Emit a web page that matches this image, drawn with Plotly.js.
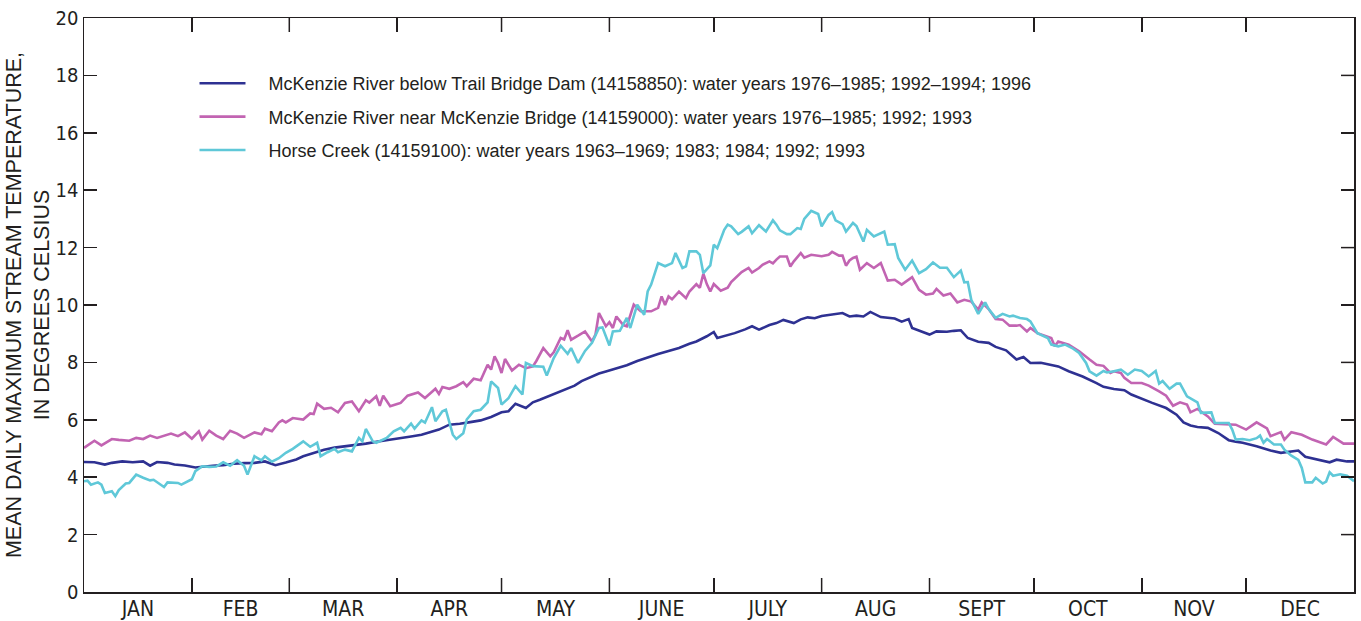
<!DOCTYPE html>
<html>
<head>
<meta charset="utf-8">
<script src="https://cdn.plot.ly/plotly-3.0.1.min.js"></script>
<style>
html,body{margin:0;padding:0;background:#fff;}
#chart{width:1361px;height:621px;}
</style>
</head>
<body>
<div id="chart"></div>
<script>
// Month boundaries (day of year) and labels
const monthStarts = [0,31,59,90,120,151,181,212,243,273,304,334,365];
const monthLabels = ["JAN","FEB","MAR","APR","MAY","JUNE","JULY","AUG","SEPT","OCT","NOV","DEC"];

// McKenzie River below Trail Bridge Dam (14158850)
const trailDays = [0,3,6,8,11,14,17,19,21,24,26,29,32,34,37,40,43,46,49,52,55,58,61,63,66,69,72,75,78,81,85,88,91,94,97,100,102,105,108,111,114,117,120,122,124,127,129,131,133,135,137,139,141,143,145,148,150,153,156,159,162,165,168,171,174,176,179,181,182,185,187,190,192,194,197,199,201,204,206,208,210,212,214,216,218,220,222,224,226,229,231,233,235,237,238,241,243,245,248,250,252,254,257,260,262,265,268,270,272,275,278,280,283,287,291,293,296,299,301,304,307,311,314,316,318,320,323,326,329,331,333,337,341,344,347,349,351,353,355,358,360,363,365];
const trailTemp = [4.53,4.52,4.44,4.5,4.55,4.52,4.55,4.4,4.53,4.5,4.44,4.41,4.34,4.37,4.4,4.42,4.47,4.49,4.5,4.55,4.42,4.51,4.62,4.73,4.85,4.96,5.03,5.07,5.12,5.17,5.25,5.3,5.37,5.42,5.48,5.6,5.66,5.83,5.86,5.92,5.98,6.1,6.26,6.3,6.56,6.41,6.61,6.7,6.8,6.9,6.99,7.1,7.19,7.35,7.46,7.61,7.68,7.78,7.9,8.05,8.18,8.29,8.4,8.5,8.65,8.73,8.91,9.06,8.85,8.95,9.02,9.15,9.26,9.14,9.3,9.37,9.48,9.37,9.5,9.57,9.54,9.62,9.66,9.68,9.72,9.6,9.63,9.6,9.76,9.58,9.55,9.53,9.42,9.51,9.2,9.05,8.97,9.08,9.07,9.1,9.12,8.85,8.72,8.68,8.54,8.42,8.1,8.19,7.98,7.99,7.9,7.86,7.69,7.51,7.28,7.15,7.07,7.03,6.88,6.73,6.59,6.41,6.18,5.91,5.8,5.75,5.72,5.54,5.29,5.24,5.2,5.08,4.93,4.85,4.9,4.93,4.71,4.66,4.61,4.52,4.61,4.55,4.55];

// McKenzie River near McKenzie Bridge (14159000)
const bridgeDays = [0,3,5,8,10,13,15,17,19,21,25,27,29,31,33,34,36,38,40,42,44,46,49,51,52,54,56,57,58,60,63,65,66,67,69,71,73,75,77,79,81,82,84,85,86,88,90,91,93,95,96,98,100,101,102,103,105,107,109,110,112,114,116,117,118,119,120,121,123,125,127,129,130,132,134,135,137,138,139,140,142,144,146,147,148,150,151,152,153,155,156,158,160,163,165,166,167,168,169,171,173,174,176,177,178,179,180,181,183,185,186,188,189,191,192,194,195,197,198,199,200,202,203,204,206,207,209,212,214,215,217,218,219,220,221,222,223,225,227,229,231,233,235,238,240,242,244,245,247,249,251,253,255,257,258,260,262,264,266,268,269,271,272,274,276,278,279,280,283,286,289,291,293,295,296,298,299,301,304,306,309,311,313,315,317,318,320,323,325,329,331,334,337,340,341,344,345,347,350,353,357,359,362,365];
const bridgeTemp = [5.02,5.27,5.11,5.33,5.3,5.27,5.37,5.33,5.45,5.37,5.52,5.43,5.56,5.34,5.6,5.31,5.62,5.45,5.33,5.62,5.52,5.37,5.56,5.5,5.69,5.6,5.91,5.98,5.91,6.06,6.01,6.22,6.2,6.56,6.38,6.42,6.26,6.59,6.64,6.3,6.68,6.6,6.82,6.49,6.84,6.47,6.55,6.59,6.84,6.9,6.95,6.76,6.97,7.08,6.9,7.14,7.08,7.17,7.31,7.17,7.43,7.38,7.92,7.75,8.21,7.98,7.63,8.12,7.72,7.92,7.8,7.86,8.05,8.5,8.21,8.35,8.85,8.8,9.12,8.79,8.93,9.08,8.73,8.97,9.72,9.26,9.4,9.2,9.6,9.3,9.26,10.01,9.78,9.78,9.9,10.3,10.0,10.3,10.2,10.47,10.24,10.47,10.73,10.6,11.09,10.73,10.47,10.73,10.5,10.6,10.8,11.05,11.15,11.29,11.13,11.29,11.4,11.52,11.45,11.58,11.69,11.69,11.34,11.52,11.81,11.65,11.75,11.7,11.75,11.85,11.72,11.72,11.37,11.55,11.64,11.68,11.23,11.46,11.29,11.46,10.85,10.88,10.71,10.97,10.53,10.36,10.4,10.56,10.33,10.4,10.09,10.18,10.12,9.84,10.09,9.86,9.51,9.49,9.28,9.28,9.3,9.08,9.2,9.02,8.93,8.85,8.56,8.73,8.62,8.39,8.1,7.92,7.88,7.63,7.69,7.63,7.46,7.28,7.28,7.19,6.99,6.84,6.49,6.61,6.53,6.26,6.38,6.12,5.86,5.84,5.83,5.66,5.91,5.7,5.43,5.57,5.31,5.57,5.48,5.31,5.14,5.4,5.17,5.17];

// Horse Creek (14159100)
const horseDays = [0,1,2,4,5,6,8,9,10,12,13,15,17,19,20,23,24,26,27,28,31,32,34,36,38,40,42,44,46,47,48,49,51,52,54,56,58,60,63,65,67,68,70,72,73,75,77,79,80,81,83,84,87,89,91,92,94,95,97,98,100,101,103,104,106,107,109,110,112,114,116,117,119,120,122,124,126,127,129,130,132,133,135,137,139,140,142,144,146,148,149,151,152,154,156,157,159,161,162,163,165,167,169,170,172,173,174,176,177,178,180,181,182,184,185,186,188,189,191,192,194,196,198,199,200,202,203,205,206,207,209,211,212,214,215,216,218,219,221,222,224,225,227,230,231,233,234,236,238,240,242,244,246,248,250,252,253,254,255,257,258,259,260,262,264,266,267,269,271,272,274,276,277,278,280,282,284,286,288,289,291,293,294,296,298,300,302,304,306,308,309,310,312,314,315,317,320,321,324,325,327,329,330,331,333,335,337,338,339,340,342,344,345,347,349,350,351,353,354,356,357,358,359,361,363,365];
const horseTemp = [3.86,3.88,3.74,3.82,3.74,3.45,3.51,3.34,3.55,3.78,3.8,4.09,3.98,3.89,3.91,3.66,3.82,3.82,3.8,3.74,3.93,4.21,4.38,4.36,4.37,4.52,4.4,4.59,4.4,4.09,4.42,4.73,4.59,4.73,4.54,4.66,4.85,4.99,5.25,5.06,5.2,4.73,4.87,4.99,4.87,4.96,4.9,5.37,5.25,5.68,5.25,5.2,5.37,5.6,5.72,5.6,5.87,5.69,5.98,5.9,6.44,5.95,6.3,6.35,5.48,5.33,5.53,6.01,6.3,6.35,6.61,7.34,7.11,6.53,6.75,7.17,6.88,7.98,7.87,7.87,7.85,7.54,8.15,8.58,8.3,8.5,7.98,8.4,8.68,9.2,9.22,8.59,9.08,9.1,9.55,9.2,10.01,9.66,10.47,10.71,11.46,11.35,11.46,11.81,11.29,11.35,11.87,11.87,11.75,11.11,11.38,12.1,11.98,12.62,12.8,12.74,12.47,12.55,12.74,12.5,12.78,12.56,12.95,12.8,12.6,12.47,12.47,12.68,12.65,13.0,13.28,13.17,12.74,13.14,13.24,12.95,12.82,12.56,12.86,12.75,12.21,12.62,12.39,12.56,12.1,12.12,11.64,11.23,11.55,11.11,11.25,11.48,11.3,11.3,10.97,11.2,10.79,10.8,10.18,9.69,9.9,10.09,9.86,9.55,9.69,9.6,9.63,9.55,9.51,9.43,9.02,8.9,8.85,8.62,8.56,8.62,8.5,8.33,7.98,7.69,7.54,7.7,7.65,7.69,7.75,7.57,7.75,7.7,7.51,7.7,7.26,7.35,7.08,7.26,7.26,6.82,6.61,6.24,6.26,5.89,5.9,5.89,5.66,5.31,5.33,5.29,5.36,5.45,5.2,5.33,5.14,5.14,4.96,4.75,4.6,4.32,3.82,3.82,3.98,3.78,3.85,4.17,4.05,4.1,4.05,3.86];

const seriesNames = [
  "McKenzie River below Trail Bridge Dam (14158850): water years 1976\u20131985; 1992\u20131994; 1996",
  "McKenzie River near McKenzie Bridge (14159000): water years 1976\u20131985; 1992; 1993",
  "Horse Creek (14159100): water years 1963\u20131969; 1983; 1984; 1992; 1993"
];
const yTicks = [0,2,4,6,8,10,12,14,16,18,20];

const monthMids = monthLabels.map((m,i)=> (monthStarts[i]+monthStarts[i+1])/2);
const innerBounds = monthStarts.slice(1,12);

const condensed = '"Liberation Sans Narrow", "DejaVu Sans Condensed", "Arial Narrow", sans-serif';
const regular = '"Liberation Sans", Arial, sans-serif';
const axisColor = '#231f20';
const pad = '\u2002\u2002';

const W = 1361, H = 621, M = {l:84, r:7, t:18, b:29};
const plotW = W - M.l - M.r, plotH = H - M.t - M.b;
const xTickLen = 14, yTickLen = 13;

function mk(x, y, name, color, grp){
  return {x:x, y:y, name:pad+name, type:'scatter', mode:'lines',
    line:{color:color, width:2.6}, legendgroup:grp, hoverinfo:'skip'};
}

const data = [
  mk(trailDays, trailTemp, seriesNames[0], '#2e3192', 'a'),
  mk(bridgeDays, bridgeTemp, seriesNames[1], '#c264b2', 'b'),
  mk(horseDays, horseTemp, seriesNames[2], '#5fc8d8', 'c'),
  {x:[], y:[], xaxis:'x2', yaxis:'y', type:'scatter', mode:'lines', showlegend:false, hoverinfo:'skip'}
];

// Tick marks at month boundaries (bottom & top) and mirrored y ticks (right), as axis decorations
const tickLine = {color:axisColor, width:1.5};
const shapes = [];
innerBounds.forEach(b => {
  shapes.push({type:'line', xref:'x', yref:'paper', x0:b, x1:b, y0:0, y1:xTickLen/plotH, line:tickLine, layer:'above'});
  shapes.push({type:'line', xref:'x', yref:'paper', x0:b, x1:b, y0:1 - xTickLen/plotH, y1:1, line:tickLine, layer:'above'});
});
yTicks.slice(1, -1).forEach(v => {
  shapes.push({type:'line', xref:'paper', yref:'y', x0:1 - yTickLen/plotW, x1:1, y0:v, y1:v, line:tickLine, layer:'above'});
});

const layout = {
  width:W, height:H,
  margin:{l:M.l, r:M.r, t:M.t, b:M.b, pad:0},
  paper_bgcolor:'#fff', plot_bgcolor:'#fff',
  font:{family:condensed, color:axisColor, size:20},
  showlegend:true,
  legend:{x:0.087, y:0.918, xanchor:'left', yanchor:'top', bgcolor:'rgba(0,0,0,0)',
    font:{family:regular, size:18, color:'#231f20'},
    tracegroupgap:7, itemwidth:46},
  shapes:shapes,
  xaxis:{range:[0,365], showgrid:false, zeroline:false, showline:true, linecolor:axisColor, linewidth:1.5,
    mirror:'ticks', tickmode:'array', tickvals:innerBounds, showticklabels:false,
    ticks:'inside', ticklen:xTickLen, tickwidth:1.5, tickcolor:axisColor},
  xaxis2:{overlaying:'x', anchor:'y', side:'bottom', range:[0,365], showgrid:false, zeroline:false, showline:false,
    tickmode:'array', tickvals:monthMids, ticktext:monthLabels, ticks:'', ticklabelstandoff:2,
    tickfont:{family:condensed, size:21, color:axisColor}},
  yaxis:{range:[0,20], showgrid:false, zeroline:false, showline:true, linecolor:axisColor, linewidth:1.5,
    mirror:'ticks', tickmode:'array', tickvals:yTicks, ticks:'inside', ticklen:yTickLen, tickwidth:1.5, tickcolor:axisColor,
    tickfont:{family:condensed, size:20, color:axisColor},
    title:{text:'MEAN DAILY MAXIMUM STREAM TEMPERATURE,<br>IN DEGREES CELSIUS', font:{family:regular, size:21.5, color:axisColor}, standoff:0}}
};

Plotly.newPlot('chart', data, layout, {displayModeBar:false, staticPlot:true});
</script>
</body>
</html>
